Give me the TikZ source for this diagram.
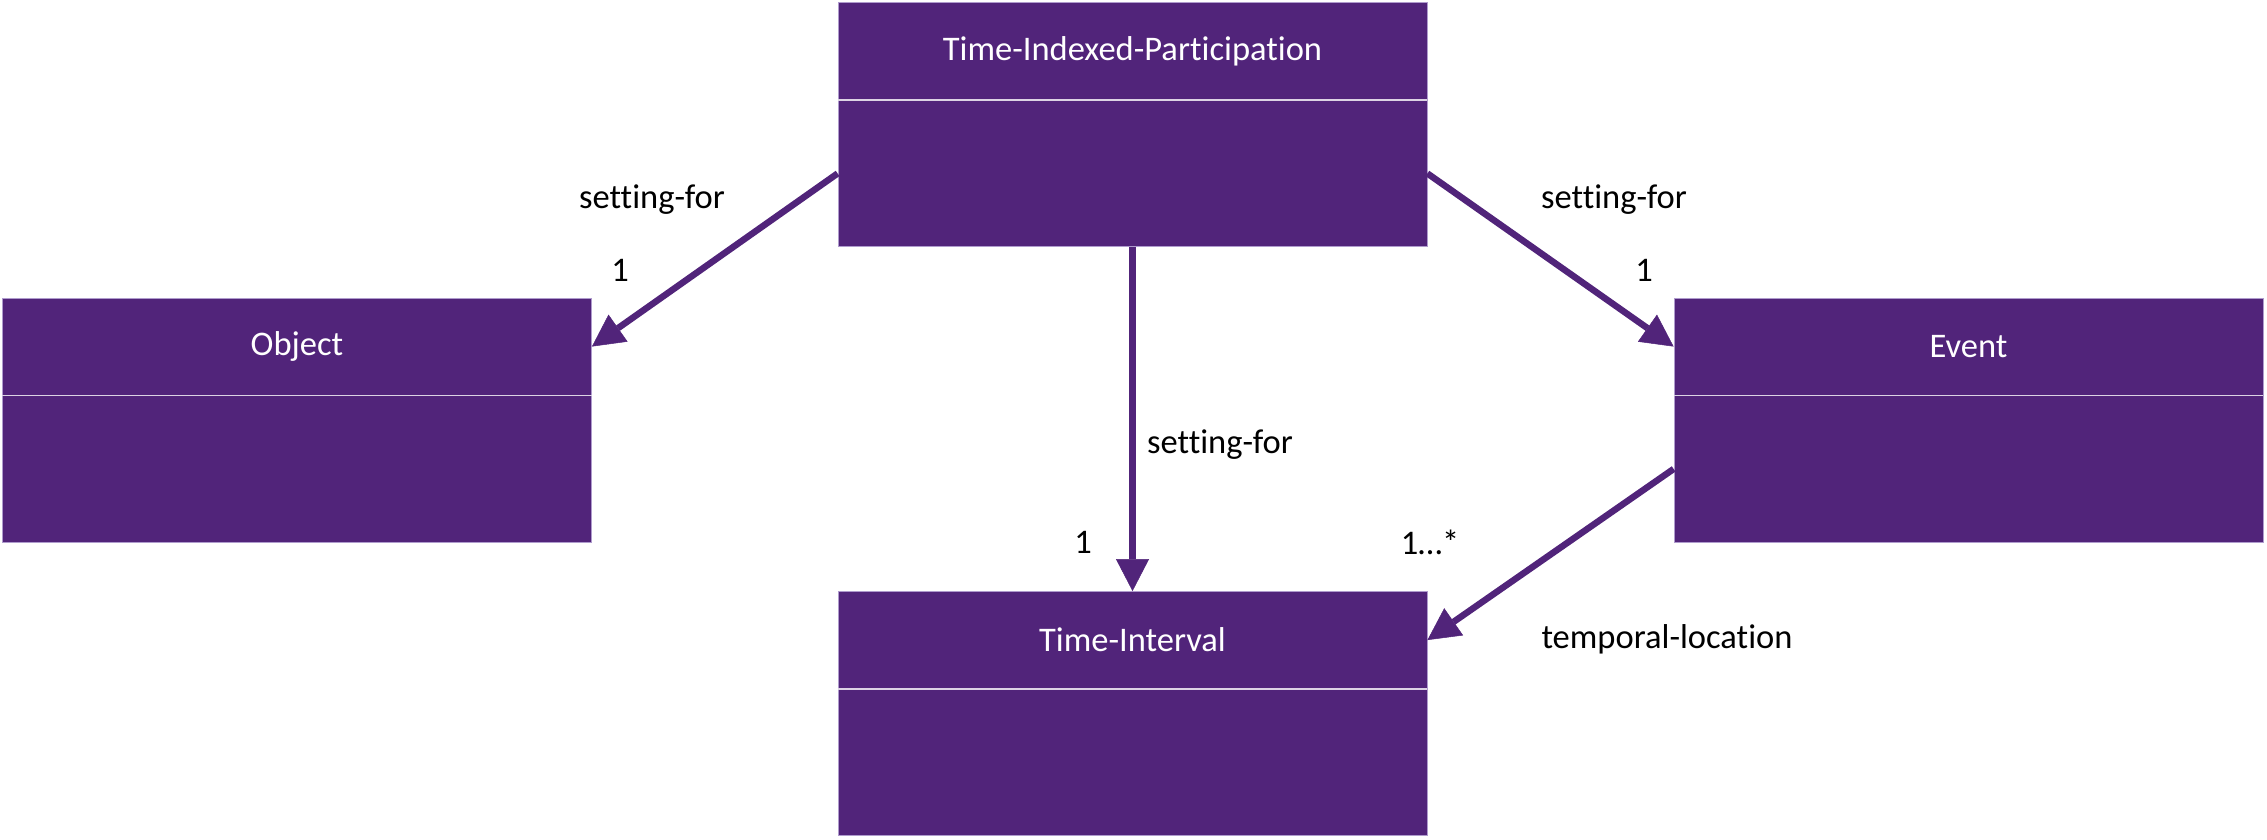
\documentclass[tikz,border=0pt]{standalone}
\usepackage{fontspec}
\setmainfont[Ligatures=NoCommon]{Carlito}
\usetikzlibrary{calc,arrows.meta}
\definecolor{umlpurple}{RGB}{81,36,122}
\definecolor{umledge}{RGB}{175,155,205}

\begin{document}
\begin{tikzpicture}[
  x=1pt, y=-1pt,
  font=\fontsize{34.5}{40}\selectfont,
  cls/.style={draw=umledge, line width=0.8pt, fill=umlpurple, minimum width=589pt, minimum height=244pt, inner sep=0pt},
  clsname/.style={text=white, inner sep=0pt},
  divider/.style={draw=white!80!umlpurple, line width=1.5pt},
  assoc/.style={draw=umlpurple, line width=6.5pt, -{Triangle[length=32pt, width=33pt, line width=0.5pt]}},
  lbl/.style={text=black, inner sep=0pt},
]
\useasboundingbox (0,0) rectangle (2267,840);

% Classes
\node[cls] (tip)  at (1132.5,124.5) {};
\node[cls] (obj)  at (297,420) {};
\node[cls] (evt)  at (1968.5,420) {};
\node[cls] (tint) at (1132.5,713.5) {};

% Names and compartments
\foreach \c/\t in {tip/Time-Indexed-Participation, obj/Object, evt/Event, tint/Time-Interval} {
  \node[clsname] (\c-name) at ($(\c.south)!0.8!(\c.north)$) {\t};
  \draw[divider] ($(\c.south west)!0.6!(\c.north west)$) -- ($(\c.south east)!0.6!(\c.north east)$);
}

% Associations
\draw[assoc] ($(tip.south west)!0.3!(tip.north west)$) -- ($(obj.south east)!0.8!(obj.north east)$);
\draw[assoc] ($(tip.south east)!0.3!(tip.north east)$) -- ($(evt.south west)!0.8!(evt.north west)$);
\draw[assoc] (tip.south) -- (tint.north);
\draw[assoc] ($(evt.south west)!0.3!(evt.north west)$) -- ($(tint.south east)!0.8!(tint.north east)$);

% Role names and multiplicities
\node[lbl] (role-obj)  at (652,200)  {setting-for};
\node[lbl] (mult-obj)  at (620,270)  {1};
\node[lbl] (role-evt)  at (1614,200) {setting-for};
\node[lbl] (mult-evt)  at (1644,270) {1};
\node[lbl] (role-tint) at (1220,445) {setting-for};
\node[lbl] (mult-tint) at (1083,542) {1};
\node[lbl] (mult-loc)  at (1430,542) {1…*};
\node[lbl] (role-loc)  at (1667,639) {temporal-location};

\end{tikzpicture}
\end{document}
